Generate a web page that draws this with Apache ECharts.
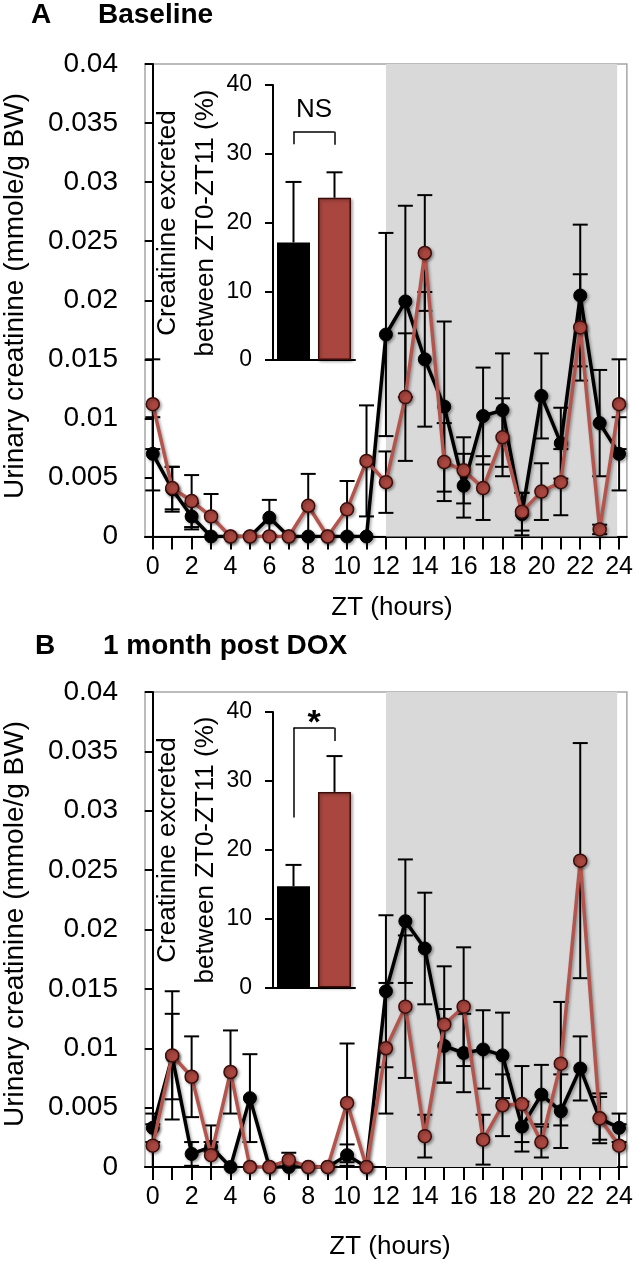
<!DOCTYPE html>
<html>
<head>
<meta charset="utf-8">
<script src="https://cdn.jsdelivr.net/npm/echarts@6/dist/echarts.min.js"></script>
<style>
    html, body { margin: 0; padding: 0; background: #fff; }
    #chart { width: 636px; height: 1261px; }
</style>
</head>
<body>
<div id="chart"></div>
<script>
// hours of the day and tick labels
var ztHours = [0, 1, 2, 3, 4, 5, 6, 7, 8, 9, 10, 11, 12, 13, 14, 15, 16, 17, 18, 19, 20, 21, 22, 23, 24];
var xTickLabels = [0, 2, 4, 6, 8, 10, 12, 14, 16, 18, 20, 22, 24];
var darkPhase = [12, 23.9];

// panel A - baseline
var baseBlack    = [0.007, 0.004, 0.0017, 0, 0, 0, 0.0016, 0, 0, 0, 0, 0, 0.0171, 0.0199, 0.015, 0.011, 0.0043, 0.0102, 0.0107, 0.0019, 0.0119, 0.0079, 0.0204, 0.0096, 0.007];
var baseBlackErr = [0.0031, 0.0019, 0.0011, 0, 0, 0, 0.0015, 0, 0, 0, 0, 0, 0.0086, 0.0081, 0.0057, 0.0072, 0.0027, 0.0041, 0.0048, 0.0018, 0.0036, 0.003, 0.006, 0.0045, 0.0031];
var baseRed      = [0.0112, 0.0041, 0.003, 0.0017, 0, 0, 0, 0, 0.0026, 0, 0.0023, 0.0064, 0.0046, 0.0118, 0.024, 0.0063, 0.0056, 0.0041, 0.0084, 0.0021, 0.0038, 0.0046, 0.0177, 0.0006, 0.0112];
var baseRedErr   = [0.0038, 0.0018, 0.0022, 0.0019, 0, 0, 0, 0, 0.0027, 0, 0.0024, 0.0047, 0.0026, 0.0054, 0.0049, 0.0033, 0.0028, 0.0027, 0.0033, 0.0016, 0.0024, 0.0028, 0.0045, 0.0004, 0.0038];

// panel B - 1 month post DOX
var doxBlack    = [0.0033, 0.0093, 0.0011, 0.0017, 0, 0.0058, 0, 0, 0, 0, 0.001, 0, 0.0148, 0.0207, 0.0184, 0.0102, 0.0096, 0.0099, 0.0094, 0.0034, 0.0061, 0.0047, 0.0083, 0.0041, 0.0033];
var doxBlackErr = [0.0012, 0.0036, 0.001, 0.0004, 0, 0.0037, 0, 0, 0, 0, 0.0009, 0, 0.0064, 0.0052, 0.0047, 0.0031, 0.0033, 0.0033, 0.0036, 0.0021, 0.0025, 0.0031, 0.0027, 0.0021, 0.0012];
var doxRed      = [0.0018, 0.0094, 0.0076, 0.001, 0.008, 0, 0, 0.0006, 0, 0, 0.0054, 0, 0.01, 0.0135, 0.0026, 0.012, 0.0135, 0.0023, 0.0052, 0.0053, 0.0021, 0.0087, 0.0258, 0.0041, 0.0018];
var doxRedErr   = [0.0018, 0.0054, 0.0034, 0.0025, 0.0035, 0, 0, 0.0006, 0, 0, 0.005, 0, 0.0055, 0.006, 0.0018, 0.0049, 0.005, 0.0021, 0.0026, 0.0032, 0.0013, 0.0052, 0.0099, 0.0018, 0.0018];

// insets: % excreted between ZT0-ZT11
var insetGroups = ['control', 'mutant'];
var basePct     = [17.1, 23.6];
var basePctErr  = [8.8, 3.7];
var doxPct      = [14.7, 28.4];
var doxPctErr   = [3.1, 5.2];

var FONT = 'Liberation Sans, Arial, sans-serif';
var RED_LINE = '#b3544d';
var RED_FILL = '#a8463f';
var RED_EDGE = '#3a0d0a';

var chartDom = document.getElementById('chart');
var myChart = echarts.init(chartDom);

function mainX(gi) {
    return {
        gridIndex: gi, type: 'value', min: -0.4, max: 24.4,
        splitLine: {show: false},
        axisLine: {lineStyle: {color: '#000', width: 2}},
        axisTick: {show: true, length: 13, customValues: ztHours, lineStyle: {color: '#000', width: 2}},
        axisLabel: {customValues: xTickLabels, fontSize: 25, color: '#000', fontFamily: FONT, margin: 18}
    };
}
function mainY(gi) {
    return {
        gridIndex: gi, type: 'value', min: 0, max: 0.04, interval: 0.005,
        splitLine: {show: false},
        axisLine: {show: true, lineStyle: {color: '#000', width: 2}},
        axisTick: {show: true, length: 8, lineStyle: {color: '#000', width: 2}},
        axisLabel: {fontSize: 28, color: '#000', fontFamily: FONT, margin: 27}
    };
}
function insetX(gi) {
    return {
        gridIndex: gi, type: 'category', data: insetGroups,
        axisLine: {lineStyle: {color: '#000', width: 2}},
        axisTick: {show: false}, axisLabel: {show: false}
    };
}
function insetY(gi) {
    return {
        gridIndex: gi, type: 'value', min: 0, max: 40, interval: 10,
        splitLine: {show: false},
        axisLine: {show: true, lineStyle: {color: '#000', width: 2}},
        axisTick: {show: true, length: 8, lineStyle: {color: '#000', width: 2}},
        axisLabel: {fontSize: 23, color: '#000', fontFamily: FONT, margin: 21}
    };
}

function errBars(params, api) {
    var x = api.value(0), v = api.value(1), e = api.value(2);
    if (!(e > 0)) return null;
    var lo = Math.max(v - e, 0);
    var pt = api.coord([x, v + e]);
    var pb = api.coord([x, lo]);
    var st = {stroke: '#000', lineWidth: 2};
    var kids = [
        {type: 'line', shape: {x1: pt[0], y1: pt[1], x2: pb[0], y2: pb[1]}, style: st},
        {type: 'line', shape: {x1: pt[0] - 7.5, y1: pt[1], x2: pt[0] + 7.5, y2: pt[1]}, style: st}
    ];
    if (v - e > 0) {
        kids.push({type: 'line', shape: {x1: pb[0] - 7.5, y1: pb[1], x2: pb[0] + 7.5, y2: pb[1]}, style: st});
    }
    return {type: 'group', children: kids};
}
function upBars(params, api) {
    var x = api.value(0), v = api.value(1), e = api.value(2);
    var p0 = api.coord([x, v]);
    var p1 = api.coord([x, v + e]);
    var st = {stroke: '#000', lineWidth: 2};
    return {type: 'group', children: [
        {type: 'line', shape: {x1: p0[0], y1: p0[1], x2: p1[0], y2: p1[1]}, style: st},
        {type: 'line', shape: {x1: p1[0] - 8, y1: p1[1], x2: p1[0] + 8, y2: p1[1]}, style: st}
    ]};
}

function zip(vals, errs) {
    return ztHours.map(function (h, i) { return [h, vals[i], errs[i]]; });
}

function panelSeries(gi, black, blackErr, red, redErr) {
    var shadow = {shadowColor: 'rgba(0,0,0,0.35)', shadowBlur: 3, shadowOffsetX: 1.5, shadowOffsetY: 1.5};
    return [
        {
            type: 'line', xAxisIndex: gi, yAxisIndex: gi, data: [[12, 0]], symbol: 'none',
            lineStyle: {opacity: 0}, silent: true, z: 0,
            markArea: {silent: true, itemStyle: {color: '#d9d9d9'},
                data: [[{xAxis: darkPhase[0]}, {xAxis: darkPhase[1]}]]}
        },
        {type: 'custom', xAxisIndex: gi, yAxisIndex: gi, renderItem: errBars, data: zip(black, blackErr), z: 2, silent: true},
        {type: 'custom', xAxisIndex: gi, yAxisIndex: gi, renderItem: errBars, data: zip(red, redErr), z: 2, silent: true},
        {
            type: 'line', xAxisIndex: gi, yAxisIndex: gi, z: 3,
            data: ztHours.map(function (h, i) { return [h, black[i]]; }),
            symbol: 'circle', symbolSize: 13,
            lineStyle: Object.assign({color: '#000', width: 3.5}, shadow),
            itemStyle: Object.assign({color: '#000', borderColor: '#000', borderWidth: 1}, shadow)
        },
        {
            type: 'line', xAxisIndex: gi, yAxisIndex: gi, z: 4,
            data: ztHours.map(function (h, i) { return [h, red[i]]; }),
            symbol: 'circle', symbolSize: 13,
            lineStyle: Object.assign({color: RED_LINE, width: 3.5}, shadow),
            itemStyle: Object.assign({color: RED_FILL, borderColor: RED_EDGE, borderWidth: 1.5}, shadow)
        }
    ];
}

function insetSeries(gi, pct, pctErr, bracket) {
    var seg = function (a, b) { return [{coord: a}, {coord: b}]; };
    return [
        {
            type: 'bar', xAxisIndex: gi, yAxisIndex: gi, barWidth: 33, z: 6,
            data: [
                {value: pct[0], itemStyle: {color: '#000'}},
                {value: pct[1], itemStyle: {color: RED_FILL, borderColor: RED_EDGE, borderWidth: 1.5,
                    shadowColor: 'rgba(0,0,0,0.3)', shadowBlur: 3, shadowOffsetX: 1.5, shadowOffsetY: 1.5}}
            ],
            markLine: {
                silent: true, symbol: ['none', 'none'], label: {show: false},
                lineStyle: {color: '#000', width: 1.5, type: 'solid'},
                data: [
                    seg([insetGroups[0], bracket[1]], [insetGroups[0], bracket[0]]),
                    seg([insetGroups[0], bracket[0]], [insetGroups[1], bracket[0]]),
                    seg([insetGroups[1], bracket[0]], [insetGroups[1], bracket[2]])
                ]
            }
        },
        {
            type: 'custom', xAxisIndex: gi, yAxisIndex: gi, renderItem: upBars, z: 7, silent: true,
            data: pct.map(function (v, i) { return [i, v, pctErr[i]]; })
        }
    ];
}

var option = {
    backgroundColor: '#fff',
    animation: false,
    grid: [
        {left: 145, top: 64, width: 485, height: 472.5, show: true, borderColor: '#a6a6a6', borderWidth: 1.5, backgroundColor: 'transparent'},
        {left: 273, top: 85, width: 82, height: 275},
        {left: 145, top: 692, width: 485, height: 475, show: true, borderColor: '#a6a6a6', borderWidth: 1.5, backgroundColor: 'transparent'},
        {left: 273, top: 712, width: 82, height: 275.5}
    ],
    xAxis: [mainX(0), insetX(1), mainX(2), insetX(3)],
    yAxis: [mainY(0), insetY(1), mainY(2), insetY(3)],
    series: []
        .concat(panelSeries(0, baseBlack, baseBlackErr, baseRed, baseRedErr))
        .concat(insetSeries(1, basePct, basePctErr, [33.2, 31.4, 31.3]))
        .concat(panelSeries(2, doxBlack, doxBlackErr, doxRed, doxRedErr))
        .concat(insetSeries(3, doxPct, doxPctErr, [37.7, 24.7, 35.8]))
};
myChart.setOption(option);

function midPx(gi, yVal) {
    var a = myChart.convertToPixel({xAxisIndex: gi, yAxisIndex: gi}, [insetGroups[0], yVal]);
    var b = myChart.convertToPixel({xAxisIndex: gi, yAxisIndex: gi}, [insetGroups[1], yVal]);
    return [(a[0] + b[0]) / 2, a[1]];
}
var nsPos = midPx(1, 36.4);
var starPos = midPx(3, 39.2);

function txt(text, x, y, size, opts) {
    var o = opts || {};
    return {
        type: 'text', x: x, y: y, rotation: o.rot || 0, z: 20,
        style: {text: text, fill: '#000', fontSize: size, fontFamily: FONT,
            fontWeight: o.bold ? 'bold' : 'normal',
            align: o.align || 'center', verticalAlign: 'middle'}
    };
}
var R = Math.PI / 2;
myChart.setOption({
    graphic: [
        txt('A', 41, 15, 28, {bold: true}),
        txt('Baseline', 98, 15, 28, {bold: true, align: 'left'}),
        txt('Urinary creatinine (mmole/g BW)', 15, 296, 28, {rot: R}),
        txt('ZT (hours)', 392, 608, 26),
        txt('Creatinine excreted', 168, 223, 26, {rot: R}),
        txt('between ZT0-ZT11 (%)', 206, 223, 26, {rot: R}),
        txt('NS', nsPos[0], nsPos[1], 26),

        txt('B', 45, 646, 28, {bold: true}),
        txt('1 month post DOX', 103, 646, 28, {bold: true, align: 'left'}),
        txt('Urinary creatinine (mmole/g BW)', 15, 924, 28, {rot: R}),
        txt('ZT (hours)', 390, 1247, 26),
        txt('Creatinine excreted', 168, 850, 26, {rot: R}),
        txt('between ZT0-ZT11 (%)', 206, 850, 26, {rot: R}),
        txt('*', starPos[0], starPos[1] + 6, 34, {bold: true})
    ]
});
</script>
</body>
</html>
